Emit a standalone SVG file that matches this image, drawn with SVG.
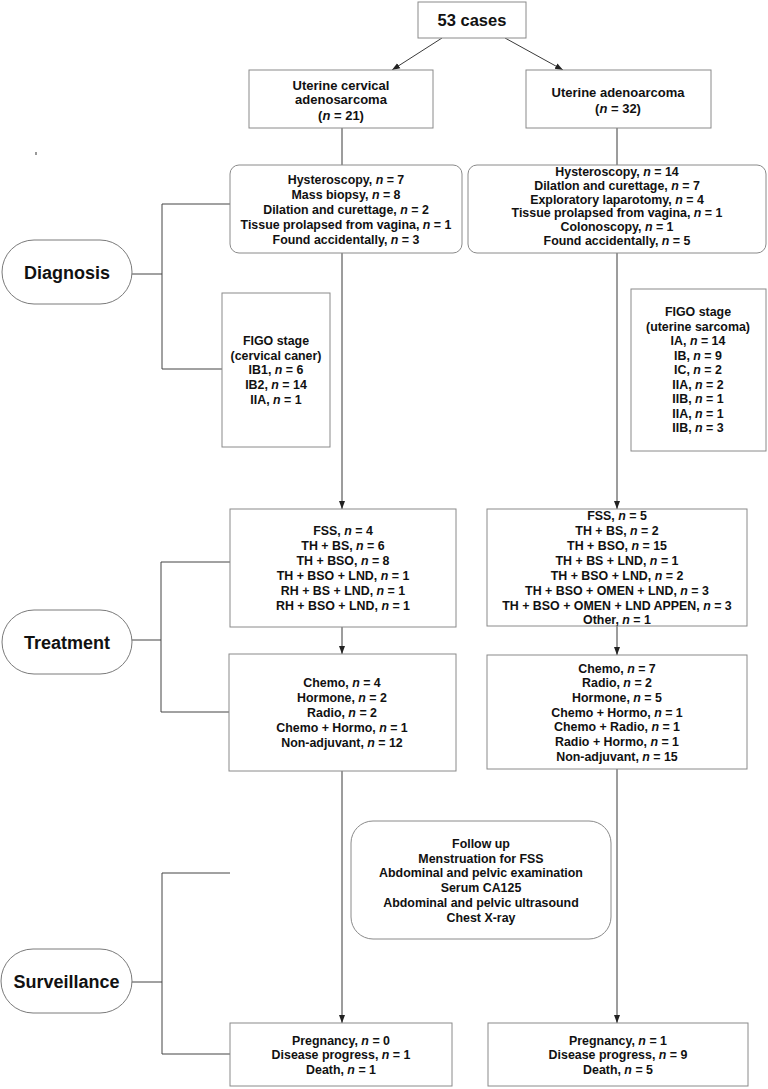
<svg xmlns="http://www.w3.org/2000/svg" width="768" height="1089" viewBox="0 0 768 1089">
<defs>
<style>
.box{fill:#fff;stroke:#8a8a8a;stroke-width:1}
.pill{fill:#fff;stroke:#7a7a7a;stroke-width:1}
.ln{fill:none;stroke:#3a3a3a;stroke-width:1}
.br{fill:none;stroke:#444;stroke-width:1}
text{font-family:"Liberation Sans",Arial,sans-serif;font-weight:bold;fill:#111;text-anchor:middle}
.b{font-size:12.4px}
.t{font-size:13px}
.p{font-size:18px}
.i{font-style:italic}
</style>
<marker id="ah" markerUnits="userSpaceOnUse" markerWidth="8" markerHeight="8" viewBox="0 0 8 8" refX="8" refY="4" orient="auto">
<path d="M0,1 L8,4 L0,7 Z" fill="#222"/>
</marker>
</defs>
<rect width="768" height="1089" fill="#fff"/>
<rect x="35" y="152" width="2" height="3" fill="#999"/>

<g id="connectors">
<line class="ln" x1="442" y1="38" x2="392" y2="70" marker-end="url(#ah)"/>
<line class="ln" x1="505" y1="38" x2="563" y2="70" marker-end="url(#ah)"/>
<line class="ln" x1="342" y1="128" x2="342" y2="165"/>
<line class="ln" x1="617" y1="128" x2="617" y2="165"/>
<line class="ln" x1="342" y1="253" x2="342" y2="509" marker-end="url(#ah)"/>
<line class="ln" x1="617" y1="253" x2="617" y2="509" marker-end="url(#ah)"/>
<line class="ln" x1="342" y1="627" x2="342" y2="654" marker-end="url(#ah)"/>
<line class="ln" x1="617" y1="626" x2="617" y2="655" marker-end="url(#ah)"/>
<line class="ln" x1="342" y1="771" x2="342" y2="1023" marker-end="url(#ah)"/>
<line class="ln" x1="617" y1="769" x2="617" y2="1023" marker-end="url(#ah)"/>
<path class="br" d="M132,274 H162 M162,204 V369 M162,204 H230 M162,369 H222"/>
<path class="br" d="M132,640 H161 M161,562 V712 M161,562 H230 M161,712 H229"/>
<path class="br" d="M131,982 H162 M162,873 V1054 M162,873 H230 M162,1054 H230"/>
</g>

<g id="total">
<rect class="box" x="418" y="2" width="108" height="36"/>
<text x="472" y="26" style="font-size:16.5px">53 cases</text>
</g>

<g id="cervical">
<rect class="box" x="249" y="70" width="184" height="58"/>
<text class="t" x="341" y="89.5">Uterine cervical</text>
<text class="t" x="341" y="104">adenosarcoma</text>
<text class="t" x="341" y="119.5">(<tspan class="i">n</tspan> = 21)</text>
</g>

<g id="uterine">
<rect class="box" x="526" y="70" width="185" height="58"/>
<text class="t" x="618" y="96.5">Uterine adenoarcoma</text>
<text class="t" x="618" y="112.5">(<tspan class="i">n</tspan> = 32)</text>
</g>

<g id="diagnosis-label">
<rect class="pill" x="2" y="240" width="130" height="64" rx="32"/>
<text class="p" x="67" y="278.5">Diagnosis</text>
</g>

<g id="diag-left">
<rect class="box" x="230" y="165" width="232" height="88" rx="9"/>
<text class="b" x="346" y="183.5">Hysteroscopy, <tspan class="i">n</tspan> = 7</text>
<text class="b" x="346" y="198.5">Mass biopsy, <tspan class="i">n</tspan> = 8</text>
<text class="b" x="346" y="213.5">Dilation and curettage, <tspan class="i">n</tspan> = 2</text>
<text class="b" x="346" y="228.5">Tissue prolapsed from vagina, <tspan class="i">n</tspan> = 1</text>
<text class="b" x="346" y="243.5">Found accidentally, <tspan class="i">n</tspan> = 3</text>
</g>

<g id="diag-right">
<rect class="box" x="468" y="165" width="298" height="88" rx="9"/>
<text class="b" x="617" y="176">Hysteroscopy, <tspan class="i">n</tspan> = 14</text>
<text class="b" x="617" y="189.8">Dilatlon and curettage, <tspan class="i">n</tspan> = 7</text>
<text class="b" x="617" y="203.6">Exploratory laparotomy, <tspan class="i">n</tspan> = 4</text>
<text class="b" x="617" y="217.4">Tissue prolapsed from vagina, <tspan class="i">n</tspan> = 1</text>
<text class="b" x="617" y="231.2">Colonoscopy, <tspan class="i">n</tspan> = 1</text>
<text class="b" x="617" y="245">Found accidentally, <tspan class="i">n</tspan> = 5</text>
</g>

<g id="figo-left">
<rect class="box" x="222" y="293" width="108" height="154"/>
<text class="b" x="276" y="344.5">FIGO stage</text>
<text class="b" x="276" y="359.5">(cervical caner)</text>
<text class="b" x="276" y="373.5">IB1, <tspan class="i">n</tspan> = 6</text>
<text class="b" x="276" y="388.5">IB2, <tspan class="i">n</tspan> = 14</text>
<text class="b" x="276" y="403.5">IIA, <tspan class="i">n</tspan> = 1</text>
</g>

<g id="figo-right">
<rect class="box" x="631" y="289" width="135" height="162"/>
<text class="b" x="698" y="316.2">FIGO stage</text>
<text class="b" x="698" y="330.7">(uterine sarcoma)</text>
<text class="b" x="698" y="345.2">IA, <tspan class="i">n</tspan> = 14</text>
<text class="b" x="698" y="359.7">IB, <tspan class="i">n</tspan> = 9</text>
<text class="b" x="698" y="374.2">IC, <tspan class="i">n</tspan> = 2</text>
<text class="b" x="698" y="388.7">IIA, <tspan class="i">n</tspan> = 2</text>
<text class="b" x="698" y="403.2">IIB, <tspan class="i">n</tspan> = 1</text>
<text class="b" x="698" y="417.7">IIA, <tspan class="i">n</tspan> = 1</text>
<text class="b" x="698" y="432.2">IIB, <tspan class="i">n</tspan> = 3</text>
</g>

<g id="treatment-label">
<rect class="pill" x="2" y="610" width="130" height="64" rx="32"/>
<text class="p" x="67" y="648.5">Treatment</text>
</g>

<g id="surgery-left">
<rect class="box" x="230" y="509" width="226" height="118"/>
<text class="b" x="343" y="535">FSS, <tspan class="i">n</tspan> = 4</text>
<text class="b" x="343" y="550">TH + BS, <tspan class="i">n</tspan> = 6</text>
<text class="b" x="343" y="565">TH + BSO, <tspan class="i">n</tspan> = 8</text>
<text class="b" x="343" y="580">TH + BSO + LND, <tspan class="i">n</tspan> = 1</text>
<text class="b" x="343" y="595">RH + BS + LND, <tspan class="i">n</tspan> = 1</text>
<text class="b" x="343" y="610">RH + BSO + LND, <tspan class="i">n</tspan> = 1</text>
</g>

<g id="surgery-right">
<rect class="box" x="487" y="509" width="260" height="117"/>
<text class="b" x="617" y="519.5">FSS, <tspan class="i">n</tspan> = 5</text>
<text class="b" x="617" y="534.5">TH + BS, <tspan class="i">n</tspan> = 2</text>
<text class="b" x="617" y="549.5">TH + BSO, <tspan class="i">n</tspan> = 15</text>
<text class="b" x="617" y="564.5">TH + BS + LND, <tspan class="i">n</tspan> = 1</text>
<text class="b" x="617" y="579.5">TH + BSO + LND, <tspan class="i">n</tspan> = 2</text>
<text class="b" x="617" y="594.5">TH + BSO + OMEN + LND, <tspan class="i">n</tspan> = 3</text>
<text class="b" x="617" y="609.5">TH + BSO + OMEN + LND APPEN, <tspan class="i">n</tspan> = 3</text>
<text class="b" x="617" y="624">Other, <tspan class="i">n</tspan> = 1</text>
</g>

<g id="adjuvant-left">
<rect class="box" x="229" y="654" width="227" height="117"/>
<text class="b" x="342" y="687">Chemo, <tspan class="i">n</tspan> = 4</text>
<text class="b" x="342" y="702">Hormone, <tspan class="i">n</tspan> = 2</text>
<text class="b" x="342" y="717">Radio, <tspan class="i">n</tspan> = 2</text>
<text class="b" x="342" y="732">Chemo + Hormo, <tspan class="i">n</tspan> = 1</text>
<text class="b" x="342" y="747">Non-adjuvant, <tspan class="i">n</tspan> = 12</text>
</g>

<g id="adjuvant-right">
<rect class="box" x="487" y="655" width="260" height="114"/>
<text class="b" x="617" y="672.7">Chemo, <tspan class="i">n</tspan> = 7</text>
<text class="b" x="617" y="687.3">Radio, <tspan class="i">n</tspan> = 2</text>
<text class="b" x="617" y="702">Hormone, <tspan class="i">n</tspan> = 5</text>
<text class="b" x="617" y="716.7">Chemo + Hormo, <tspan class="i">n</tspan> = 1</text>
<text class="b" x="617" y="731.3">Chemo + Radio, <tspan class="i">n</tspan> = 1</text>
<text class="b" x="617" y="746">Radio + Hormo, <tspan class="i">n</tspan> = 1</text>
<text class="b" x="617" y="760.7">Non-adjuvant, <tspan class="i">n</tspan> = 15</text>
</g>

<g id="followup">
<rect class="box" x="351" y="821" width="260" height="118" rx="22"/>
<text class="b" x="481" y="847.8">Follow up</text>
<text class="b" x="481" y="862.6">Menstruation for FSS</text>
<text class="b" x="481" y="877.4">Abdominal and pelvic examination</text>
<text class="b" x="481" y="892.2">Serum CA125</text>
<text class="b" x="481" y="907">Abdominal and pelvic ultrasound</text>
<text class="b" x="481" y="921.8">Chest X-ray</text>
</g>

<g id="surveillance-label">
<rect class="pill" x="1" y="949" width="131" height="64" rx="32"/>
<text class="p" x="66.5" y="987.5">Surveillance</text>
</g>

<g id="outcome-left">
<rect class="box" x="230" y="1023" width="222" height="63"/>
<text class="b" x="341" y="1044.5">Pregnancy, <tspan class="i">n</tspan> = 0</text>
<text class="b" x="341" y="1059.3">Disease progress, <tspan class="i">n</tspan> = 1</text>
<text class="b" x="341" y="1074">Death, <tspan class="i">n</tspan> = 1</text>
</g>

<g id="outcome-right">
<rect class="box" x="488" y="1023" width="260" height="63"/>
<text class="b" x="618" y="1044.5">Pregnancy, <tspan class="i">n</tspan> = 1</text>
<text class="b" x="618" y="1059.3">Disease progress, <tspan class="i">n</tspan> = 9</text>
<text class="b" x="618" y="1074">Death, <tspan class="i">n</tspan> = 5</text>
</g>
</svg>
